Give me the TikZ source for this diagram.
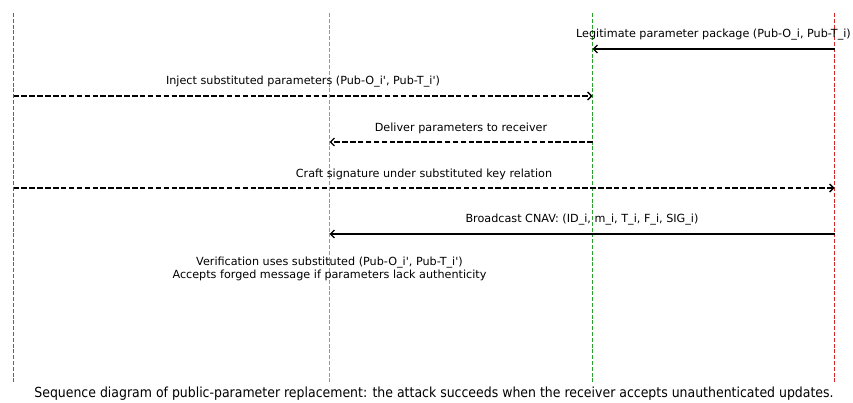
\documentclass[tikz,border=0pt]{standalone}
\usepackage{fontspec}
\setmainfont{DejaVu Sans}
\newfontfamily\capfont{DejaVu Sans Condensed}
\usetikzlibrary{arrows.meta,positioning}
\definecolor{lineblue}{RGB}{31,119,180}
\definecolor{lineorange}{RGB}{255,127,14}
\definecolor{linegreen}{RGB}{44,160,44}
\definecolor{linered}{RGB}{214,39,40}
\newcommand{\sq}{\textquotesingle}
\tikzstyle{lifeline} = [line width=1.5pt, dash pattern=on 4pt off 1.8pt]
\tikzstyle{msg} = [line width=1.3pt, -{Straight Barb[length=4pt,width=8pt]}]
\tikzstyle{fake} = [msg, dash pattern=on 5.5pt off 2.4pt]
\tikzstyle{lbl} = [above=8pt, font=\fontsize{11.2}{13}\selectfont, inner sep=0pt]

\begin{document}
\begin{tikzpicture}[x=1pt, y=-1pt]
			\useasboundingbox (0,0) rectangle (853,403);
			\coordinate (att) at (13.5,13);
			\coordinate (rcv) at (329.5,13);
			\coordinate (dst) at (592.5,13);
			\coordinate (sat) at (834.5,13);
			\coordinate (bot) at (0,383);
			\draw[lifeline, draw=lineblue] (att) -- (att |- bot);
			\draw[lifeline, draw=lineorange] (rcv) -- (rcv |- bot);
			\draw[lifeline, draw=linegreen] (dst) -- (dst |- bot);
			\draw[lifeline, draw=linered] (sat) -- (sat |- bot);
			\coordinate (r1) at (0,49);
			\coordinate (r2) at (0,96);
			\coordinate (r3) at (0,142);
			\coordinate (r4) at (0,188);
			\coordinate (r5) at (0,234);
			\draw[msg] (sat |- r1) -- node[lbl] {Legitimate parameter package (Pub-O\_i, Pub-T\_i)} (dst |- r1);
			\draw[fake] (att |- r2) -- node[lbl] {Inject substituted parameters (Pub-O\_i\sq, Pub-T\_i\sq)} (dst |- r2);
			\draw[fake] (dst |- r3) -- node[lbl] {Deliver parameters to receiver} (rcv |- r3);
			\draw[fake] (att |- r4) -- node[lbl] {Craft signature under substituted key relation} (sat |- r4);
			\draw[msg] (sat |- r5) -- node[lbl] {Broadcast CNAV: (ID\_i, m\_i, T\_i, F\_i, SIG\_i)} (rcv |- r5);
			\node[below=23pt of rcv |- r5, align=center, inner sep=0pt, font=\fontsize{11.2}{13}\selectfont] (note) {Verification uses substituted (Pub-O\_i\sq, Pub-T\_i\sq)\\Accepts forged message if parameters lack authenticity};
			\node[font=\capfont\fontsize{13.9}{16}\selectfont, inner sep=0pt] (cap) at (434,394) {Sequence diagram of public-parameter replacement: the attack succeeds when the receiver accepts unauthenticated updates.};
		\end{tikzpicture}
\end{document}
